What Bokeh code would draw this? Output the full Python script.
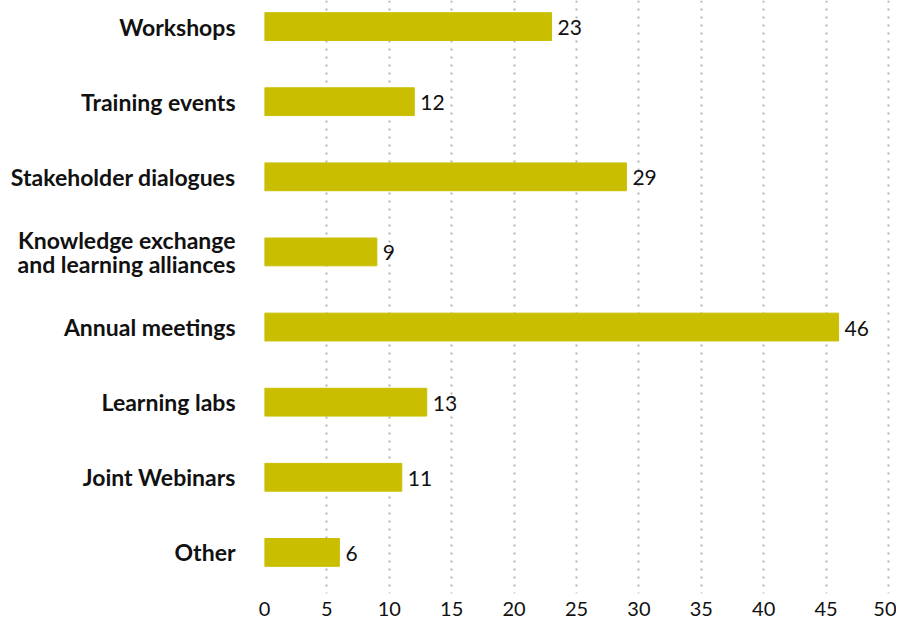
from bokeh.plotting import figure
from bokeh.models import Range1d, FixedTicker
from bokeh.embed import file_html
from bokeh.resources import INLINE
from bokeh.core.properties import value

categories = ["Workshops", "Training events", "Stakeholder dialogues",
              "Knowledge exchange\nand learning alliances", "Annual meetings",
              "Learning labs", "Joint Webinars", "Other"]
counts = [23, 12, 29, 9, 46, 13, 11, 6]
x_ticks = [0, 5, 10, 15, 20, 25, 30, 35, 40, 45, 50]

positions = list(range(len(categories)))
BAR = "#c9bf00"
FONT = "Lato"

p = figure(width=896, height=619, output_backend="svg", toolbar_location=None,
           x_range=Range1d(0, 50.64), y_range=Range1d(7.547, -0.347),
           min_border_left=264, min_border_right=0, min_border_top=0, min_border_bottom=26)

p.hbar(y=positions, right=counts, left=0, height=0.37, color=BAR)
p.text(x=counts, y=positions, text=[str(c) for c in counts], x_offset=6, y_offset=1,
       text_align="left", text_baseline="middle", text_font=value(FONT),
       text_font_size="21px", text_color="#111111")

p.xaxis.ticker = FixedTicker(ticks=x_ticks)
p.yaxis.ticker = FixedTicker(ticks=positions)
p.yaxis.major_label_overrides = {i: c for i, c in zip(positions, categories)}

for ax in (p.xaxis, p.yaxis):
    ax.axis_line_color = None
    ax.major_tick_line_color = None
    ax.minor_tick_line_color = None
    ax.major_tick_out = 0
    ax.major_label_text_font = FONT
    ax.major_label_text_color = "#111111"

p.yaxis.major_label_text_font_size = "23px"
p.yaxis.major_label_text_font_style = "bold"
p.yaxis.major_label_text_line_height = 0.85
p.yaxis.major_label_standoff = 29
p.xaxis.major_label_text_font_size = "20px"
p.xaxis.major_label_standoff = 8

p.ygrid.grid_line_color = None
p.xgrid.grid_line_color = "#b3b3b3"
p.xgrid.grid_line_width = 2
p.xgrid.grid_line_dash = "2 6"
p.outline_line_color = None

open("out.html", "w").write(file_html(p, INLINE))
